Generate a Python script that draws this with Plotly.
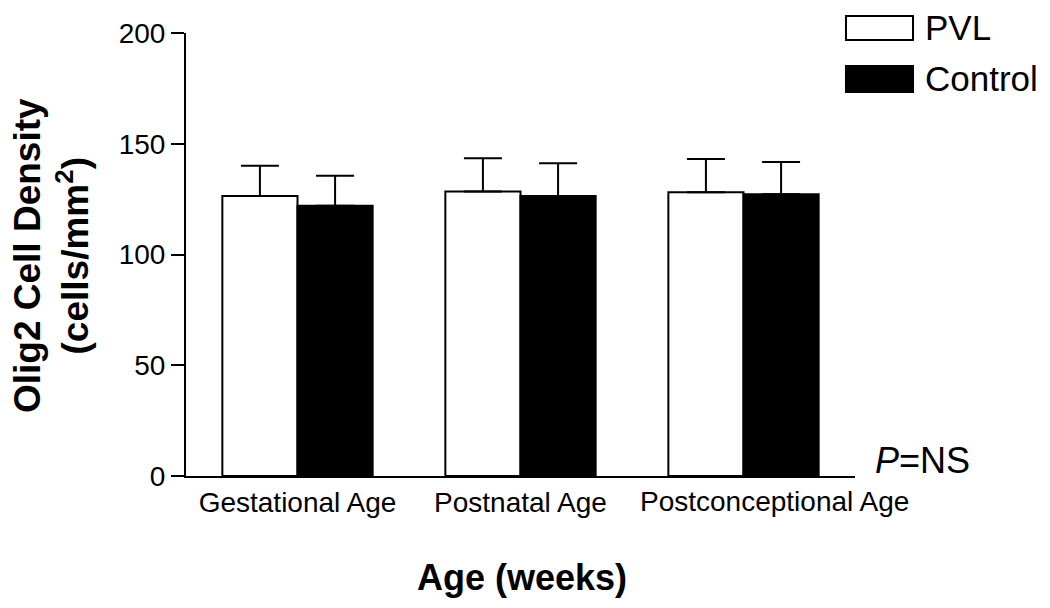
import plotly.graph_objects as go

categories = ["Gestational Age", "Postnatal Age", "Postconceptional Age"]
tick_labels = ["Gestational Age", "Postnatal Age", ""]
offset_label = "Postconceptional Age"
pvl_mean = [126.4, 128.4, 128.1]
pvl_sem = [13.7, 15.0, 15.0]
control_mean = [122.0, 126.4, 127.2]
control_sem = [13.6, 14.8, 14.6]

FONT = "Liberation Sans, Arial, sans-serif"

fig = go.Figure()
fig.add_trace(go.Bar(
    x=categories, y=pvl_mean, name="PVL",
    marker=dict(color="white", line=dict(color="black", width=2)),
    error_y=dict(type="data", array=pvl_sem, arrayminus=[0, 0, 0], symmetric=False,
                 color="black", thickness=2, width=19),
    showlegend=False,
))
fig.add_trace(go.Bar(
    x=categories, y=control_mean, name="Control",
    marker=dict(color="black", line=dict(color="black", width=2)),
    error_y=dict(type="data", array=control_sem, arrayminus=[0, 0, 0], symmetric=False,
                 color="black", thickness=2, width=19),
    showlegend=False,
))

fig.update_layout(
    width=1042, height=600,
    margin=dict(l=178, r=195, t=25, b=132),
    paper_bgcolor="white", plot_bgcolor="white",
    barmode="group", bargap=0.326, bargroupgap=0,
    font=dict(family=FONT, color="black"),
    xaxis=dict(
        range=[-0.5, 2.5], showline=True, linecolor="black", linewidth=2,
        tickmode="array", tickvals=categories, ticktext=tick_labels,
        ticks="", showgrid=False, zeroline=False, tickangle=0, automargin=False,
        tickfont=dict(size=28, family=FONT, color="black"),
    ),
    yaxis=dict(
        range=[0, 200], tickvals=[0, 50, 100, 150, 200],
        showline=True, linecolor="black", linewidth=2,
        ticks="outside", ticklen=13, tickwidth=2, tickcolor="black",
        showgrid=False, zeroline=False, automargin=False,
        tickfont=dict(size=28, family=FONT, color="black"),
    ),
)

# Third category label, offset to the right as in the original
fig.add_annotation(text=offset_label, xref="x", yref="y", x=categories[2], y=0,
                   xanchor="center", yanchor="middle", xshift=31, yshift=-25,
                   showarrow=False, font=dict(size=28, family=FONT, color="black"))

# Legend drawn manually
fig.add_shape(type="rect", xref="paper", yref="paper", x0=0.9865, x1=1.0867, y0=0.9842, y1=1.0384,
              fillcolor="white", line=dict(color="black", width=2))
fig.add_shape(type="rect", xref="paper", yref="paper", x0=0.9865, x1=1.0867, y0=0.8668, y1=0.9255,
              fillcolor="black", line=dict(color="black", width=2))
fig.add_annotation(text="PVL", xref="paper", yref="paper", x=1.1016, y=1.0113,
                   xanchor="left", yanchor="middle", showarrow=False,
                   font=dict(size=35, family=FONT, color="black"))
fig.add_annotation(text="Control", xref="paper", yref="paper", x=1.1016, y=0.8962,
                   xanchor="left", yanchor="middle", showarrow=False,
                   font=dict(size=35, family=FONT, color="black"))

fig.add_annotation(text="<i>P</i>=NS", xref="paper", yref="paper", x=1.027, y=0.0339,
                   xanchor="left", yanchor="middle", showarrow=False,
                   font=dict(size=36, family=FONT, color="black"))

fig.add_annotation(text="<b>Olig2 Cell Density</b><br><b>(cells/mm<sup>2</sup>)</b>",
                   xref="paper", yref="paper", x=-0.200, y=0.497, textangle=-90,
                   xanchor="center", yanchor="middle", showarrow=False,
                   font=dict(size=37, family=FONT, color="black"))

fig.add_annotation(text="<b>Age (weeks)</b>", xref="paper", yref="paper", x=0.502, y=-0.230,
                   xanchor="center", yanchor="middle", showarrow=False,
                   font=dict(size=36, family=FONT, color="black"))

fig.write_html("out.html")
